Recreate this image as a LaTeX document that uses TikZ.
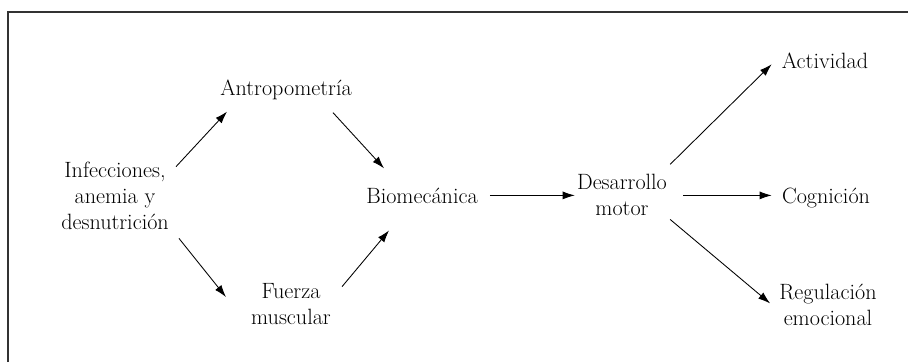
\documentclass[tikz,border=0pt]{standalone}
\usepackage{tikz}
\usetikzlibrary{arrows.meta,positioning,calc}
\usepackage{xcolor}
\definecolor{MarcoGris}{HTML}{333333}

\begin{document}
\begin{tikzpicture}[x=0.75pt, y=-0.75pt, every node/.style={font=\fontsize{16.6}{19.5}\selectfont,align=center,inner sep=0pt}, flecha/.style={-{Latex[length=3.2mm,width=2.1mm]},line width=0.65pt}]
    \useasboundingbox (0,0) rectangle (908,362);
    % marco (solo arriba e izquierda)
    \draw[MarcoGris,line width=1pt] (8,362) -- (8,12) -- (908,12);
    \node (inf) at (115,196.3) {Infecciones,\\anemia y\\desnutrición};
    \node[anchor=base] (antro) at (286,95) {Antropometría};
    \node (fuerza) at (291,304.5) {Fuerza\\muscular};
    \node[anchor=base] (bio) at (422,203) {Biomecánica};
    \node (des) at (622,195.4) {Desarrollo\\motor};
    \node[anchor=base] (act) at (825,68) {Actividad};
    \node[anchor=base] (cog) at (826,203) {Cognición};
    \node (reg) at (828,304.4) {Regulación\\emocional};
    \draw[flecha] ([shift={(7,4.5)}]inf.north east) -- ([shift={(7,12)}]antro.south west);
    \draw[flecha] ([shift={(10,8)}]inf.south east) -- ([shift={(-25,-7.5)}]fuerza.west);
    \draw[flecha] ([shift={(-19,13)}]antro.south east) -- ([shift={(18,-19)}]bio.north west);
    \draw[flecha] ([shift={(11,3)}]fuerza.north east) -- ([shift={(23,27)}]bio.south west);
    \draw[flecha,shorten <=12*0.75pt,shorten >=2*0.75pt] (bio.east) -- (des.west |- bio.east);
    \draw[flecha] ([shift={(3,-10)}]des.north east) -- ([shift={(-10,4)}]act.west);
    \draw[flecha,shorten <=16*0.75pt,shorten >=10*0.75pt] (des.east) -- (cog.west |- des.east);
    \draw[flecha] ([shift={(3,3)}]des.south east) -- ([shift={(-9,-1)}]reg.west);
  \end{tikzpicture}
\end{document}
